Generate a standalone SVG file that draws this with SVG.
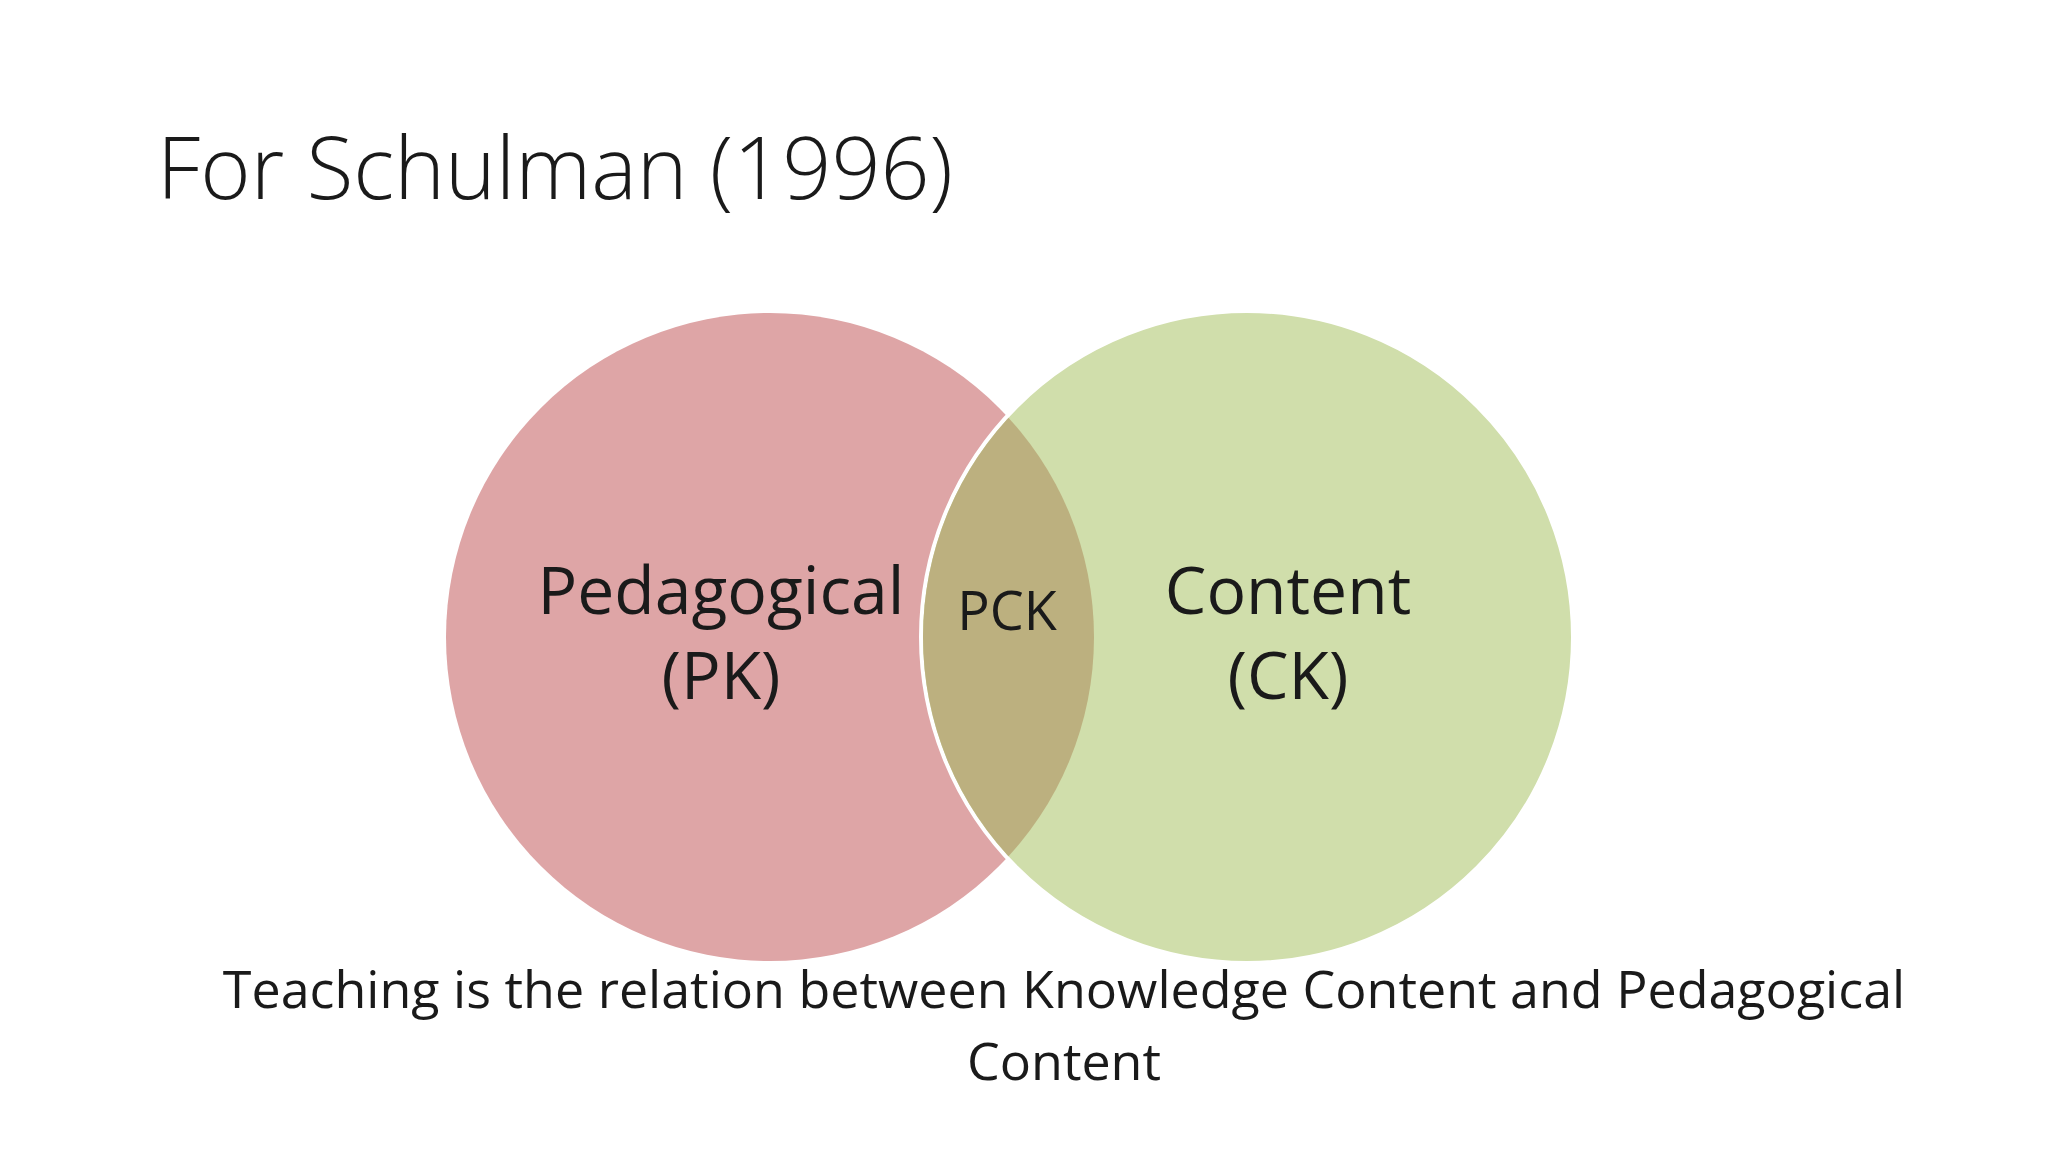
<svg xmlns="http://www.w3.org/2000/svg" width="2048" height="1152" viewBox="0 0 2048 1152">
<style>
text{font-family:"Open Sans","Liberation Sans",sans-serif;fill:#1a1a1a;text-anchor:middle}
.lbl{font-size:66px}
</style>
<defs>
<clipPath id="cl"><circle cx="770" cy="637" r="324"/></clipPath>
</defs>
<rect width="2048" height="1152" fill="#fff"/>
<text x="157" y="199" style="font-size:86px;font-weight:300;text-anchor:start">For Schulman (1996)</text>
<g id="pk"><circle cx="770" cy="637" r="324" fill="#dea5a6"/></g>
<g id="ck"><circle cx="1247" cy="637" r="326" fill="#d0deab" stroke="#fff" stroke-width="4"/></g>
<g id="pck"><circle cx="1247" cy="637" r="324" fill="#bcb07f" clip-path="url(#cl)"/></g>
<g id="labels">
<text class="lbl" x="721" y="614">Pedagogical</text>
<text class="lbl" x="721" y="699">(PK)</text>
<text x="1007" y="630" style="font-size:54px">PCK</text>
<text class="lbl" x="1288" y="614">Content</text>
<text class="lbl" x="1288" y="699">(CK)</text>
</g>
<text x="1064" y="1008" style="font-size:52px">Teaching is the relation between Knowledge Content and Pedagogical</text>
<text x="1064" y="1080" style="font-size:52px">Content</text>
</svg>
